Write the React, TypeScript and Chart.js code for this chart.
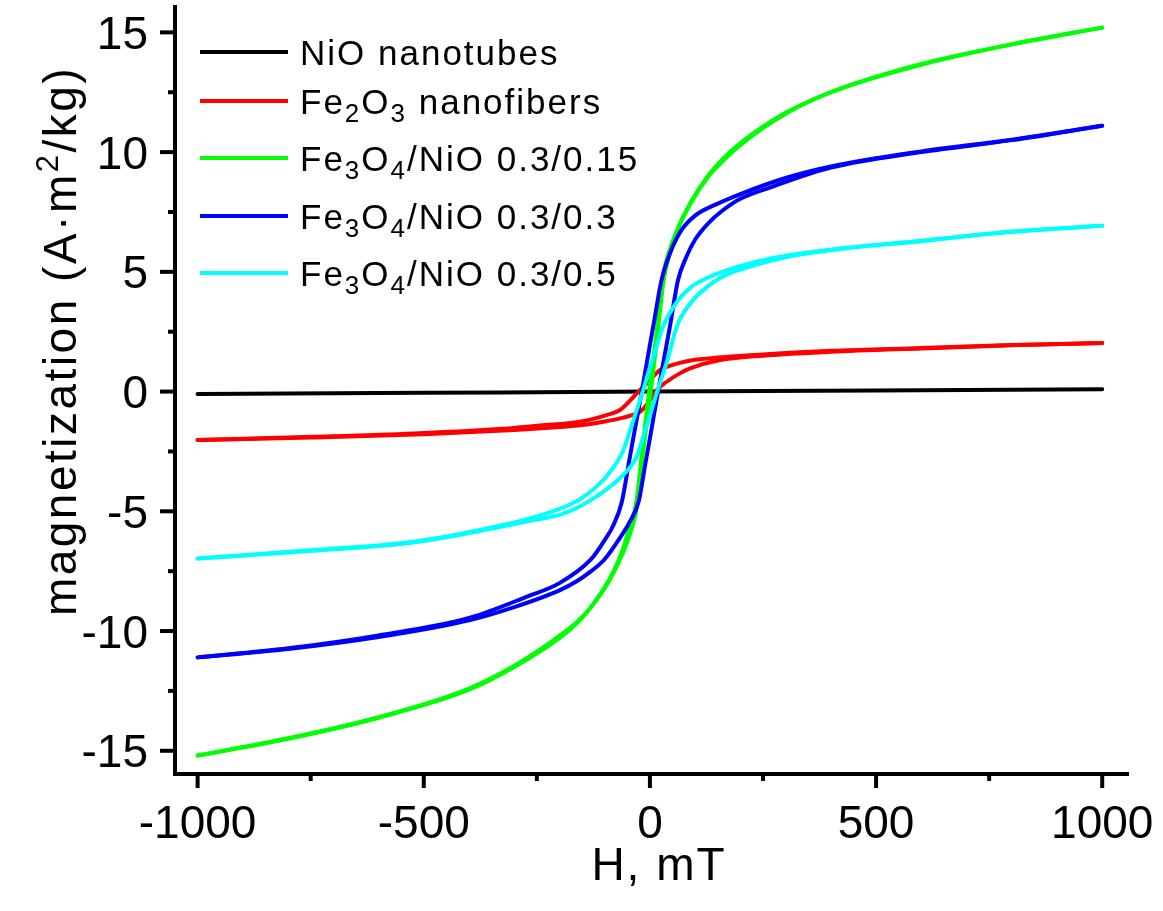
import React, { useEffect, useRef } from 'react';
import { Chart, registerables } from 'chart.js';
Chart.register(...registerables);

// ---- axis ticks ----
const xMajorTicks = [-1000, -500, 0, 500, 1000];
const xMinorTicks = [-750, -250, 250, 750];
const yMajorTicks = [-15, -10, -5, 0, 5, 10, 15];
const yMinorTicks = [-12.5, -7.5, -2.5, 2.5, 7.5, 12.5];

// ---- NiO nanotubes ----
const nioH = [-1000, -500, 0, 500, 1000];
const nioM = [-0.1, -0.05, 0, 0.05, 0.1];

// ---- Fe2O3 nanofibers ----
const redDownH = [1000, 800, 600, 400, 250, 150, 90, 66, 45, 22, 0, -22, -44, -66, -96, -155, -243, -300, -523, -744, -1000];
const redDownM = [2.03, 1.94, 1.82, 1.7, 1.55, 1.42, 1.3, 1.2, 1.08, 0.9, 0.48, 0.06, -0.38, -0.77, -0.98, -1.26, -1.42, -1.52, -1.75, -1.89, -2.02];
const redUpH = [-1000, -750, -500, -300, -200, -150, -100, -66, -40, -20, 0, 15, 37, 66, 90, 150, 250, 400, 600, 800, 1000];
const redUpM = [-2.02, -1.92, -1.78, -1.6, -1.48, -1.4, -1.25, -1.12, -0.98, -0.82, -0.38, 0.06, 0.41, 0.76, 0.98, 1.3, 1.5, 1.66, 1.8, 1.93, 2.03];

// ---- Fe3O4/NiO 0.3/0.15 ----
const greenDownH = [1000, 800, 600, 400, 300, 200, 160, 130, 90, 60, 40, 30, 15, 0, -15, -30, -45, -60, -90, -130, -160, -200, -300, -400, -600, -800, -1000];
const greenDownM = [15.2, 14.5, 13.68, 12.5, 11.64, 10.38, 9.7, 9.05, 7.9, 6.75, 5.7, 4.95, 2.5, 0.3, -2.1, -4.6, -5.65, -6.6, -7.85, -9.0, -9.6, -10.2, -11.45, -12.4, -13.6, -14.48, -15.2];
const greenUpH = [-1000, -800, -600, -400, -300, -200, -160, -130, -90, -60, -40, -30, -15, 0, 15, 30, 45, 60, 90, 130, 160, 200, 300, 400, 600, 800, 1000];
const greenUpM = [-15.2, -14.5, -13.62, -12.45, -11.5, -10.3, -9.65, -9.0, -7.9, -6.75, -5.7, -4.95, -2.5, -0.3, 2.1, 4.6, 5.85, 6.7, 7.85, 9.0, 9.6, 10.3, 11.6, 12.5, 13.65, 14.5, 15.2];

// ---- Fe3O4/NiO 0.3/0.3 ----
const blueDownH = [1000, 800, 600, 400, 300, 200, 150, 100, 70, 45, 25, 10, 0, -18, -30, -45, -62, -80, -100, -130, -200, -270, -400, -600, -800, -1000];
const blueDownM = [11.1, 10.52, 10.03, 9.4, 8.92, 8.25, 7.85, 7.35, 6.75, 5.8, 4.6, 3.0, 1.95, 0, -1.25, -2.8, -4.6, -5.55, -6.2, -7.0, -8.0, -8.55, -9.45, -10.18, -10.72, -11.1];
const blueUpH = [-1000, -800, -600, -400, -300, -200, -160, -130, -100, -66, -45, -25, -10, 0, 18, 30, 45, 62, 80, 100, 130, 160, 200, 270, 400, 600, 800, 1000];
const blueUpM = [-11.1, -10.75, -10.25, -9.55, -9.0, -8.3, -7.9, -7.5, -7.0, -6.1, -5.45, -4.6, -3.0, -1.95, 0, 1.25, 2.8, 4.65, 5.6, 6.35, 7.05, 7.55, 8.05, 8.55, 9.35, 10.0, 10.5, 11.1];

// ---- Fe3O4/NiO 0.3/0.5 ----
const cyanDownH = [1000, 800, 600, 420, 310, 236, 160, 125, 90, 60, 30, 10, 0, -16, -40, -60, -90, -120, -155, -200, -265, -376, -523, -744, -1000];
const cyanDownM = [6.92, 6.67, 6.3, 5.98, 5.7, 5.42, 5.0, 4.73, 4.35, 3.75, 2.75, 1.6, 1.0, 0, -1.4, -2.5, -3.4, -4.0, -4.5, -4.9, -5.3, -5.78, -6.27, -6.62, -6.97];
const cyanUpH = [-1000, -744, -523, -376, -265, -200, -155, -120, -90, -60, -30, -10, 0, 16, 40, 60, 90, 125, 160, 236, 310, 420, 600, 800, 1000];
const cyanUpM = [-6.97, -6.65, -6.3, -5.82, -5.4, -5.15, -4.8, -4.4, -4.0, -3.5, -2.75, -1.6, -1.0, 0, 1.4, 2.75, 3.7, 4.35, 4.8, 5.3, 5.65, 5.95, 6.28, 6.68, 6.92];

// ---- legend (segments: [text, isSubscript]) ----
const legendColors = ['#000000', '#ff0000', '#00ff00', '#0000ff', '#00ffff'];
const legendLabels: [string, boolean][][] = [
  [['NiO nanotubes', false]],
  [['Fe', false], ['2', true], ['O', false], ['3', true], [' nanofibers', false]],
  [['Fe', false], ['3', true], ['O', false], ['4', true], ['/NiO 0.3/0.15', false]],
  [['Fe', false], ['3', true], ['O', false], ['4', true], ['/NiO 0.3/0.3', false]],
  [['Fe', false], ['3', true], ['O', false], ['4', true], ['/NiO 0.3/0.5', false]],
];
const legendRowY = [52, 101, 158, 216, 273];

const FONT = '"Liberation Sans", Arial, sans-serif';

const pts = (hs: number[], ms: number[]) => hs.map((h, i) => ({ x: h, y: ms[i] }));

function ds(data: { x: number; y: number }[], color: string, order: number) {
  return {
    data,
    borderColor: color,
    backgroundColor: color,
    borderWidth: 4,
    pointRadius: 0,
    showLine: true,
    fill: false,
    cubicInterpolationMode: 'monotone' as const,
    borderCapStyle: 'round' as const,
    borderJoinStyle: 'round' as const,
    order,
  };
}

const overlay = {
  id: 'overlay',
  afterDraw(chart: any) {
    const ctx: CanvasRenderingContext2D = chart.ctx;
    const xs = chart.scales.x;
    const ys = chart.scales.y;
    const { left, bottom } = chart.chartArea;
    ctx.save();
    ctx.strokeStyle = '#000';
    ctx.fillStyle = '#000';
    ctx.lineWidth = 4;
    ctx.lineCap = 'butt';
    const seg = (x1: number, y1: number, x2: number, y2: number) => {
      ctx.beginPath();
      ctx.moveTo(x1, y1);
      ctx.lineTo(x2, y2);
      ctx.stroke();
    };
    for (const v of xMajorTicks) { const p = xs.getPixelForValue(v); seg(p, bottom, p, bottom + 14); }
    for (const v of xMinorTicks) { const p = xs.getPixelForValue(v); seg(p, bottom, p, bottom + 7); }
    for (const v of yMajorTicks) { const p = ys.getPixelForValue(v); seg(left, p, left - 15, p); }
    for (const v of yMinorTicks) { const p = ys.getPixelForValue(v); seg(left, p, left - 7, p); }

    // tick labels
    ctx.font = `46px ${FONT}`;
    ctx.textBaseline = 'alphabetic';
    ctx.textAlign = 'center';
    for (const v of xMajorTicks) ctx.fillText(String(v), xs.getPixelForValue(v), 838);
    ctx.textAlign = 'right';
    for (const v of yMajorTicks) ctx.fillText(String(v), 148, ys.getPixelForValue(v) + 16.5);

    // x title
    (ctx as any).letterSpacing = '2px';
    ctx.textAlign = 'center';
    ctx.fillText('H, mT', 659, 880);

    // y title (rotated) with superscript
    ctx.save();
    ctx.translate(76, 341);
    ctx.rotate(-Math.PI / 2);
    ctx.textAlign = 'left';
    (ctx as any).letterSpacing = '2.5px';
    const parts: [string, number, number][] = [['magnetization (A·m', 46, 0], ['2', 31, -18], ['/kg)', 46, 0]];
    let total = 0;
    for (const [t, s] of parts) { ctx.font = `${s}px ${FONT}`; total += ctx.measureText(t).width; }
    let cx = -total / 2;
    for (const [t, s, dy] of parts) {
      ctx.font = `${s}px ${FONT}`;
      ctx.fillText(t, cx, dy);
      cx += ctx.measureText(t).width;
    }
    ctx.restore();

    // legend
    (ctx as any).letterSpacing = '2px';
    ctx.textAlign = 'left';
    legendLabels.forEach((row, i) => {
      const y = legendRowY[i];
      ctx.strokeStyle = legendColors[i];
      ctx.lineWidth = 4;
      seg(200, y, 288, y);
      let x = 300;
      for (const [t, sub] of row) {
        ctx.font = `${sub ? 26 : 35}px ${FONT}`;
        ctx.fillText(t, x, y + 13 + (sub ? 8 : 0));
        x += ctx.measureText(t).width;
      }
    });
    ctx.restore();
  },
};

export default function App() {
  const ref = useRef<HTMLCanvasElement>(null);
  useEffect(() => {
    const chart = new Chart(ref.current!, {
      type: 'scatter',
      data: {
        datasets: [
          ds(pts(nioH, nioM), '#000000', 9),
          ds(pts(redDownH, redDownM), '#ff0000', 8),
          ds(pts(redUpH, redUpM), '#ff0000', 7),
          ds(pts(greenDownH, greenDownM), '#00ff00', 6),
          ds(pts(greenUpH, greenUpM), '#00ff00', 5),
          ds(pts(blueDownH, blueDownM), '#0000ff', 4),
          ds(pts(blueUpH, blueUpM), '#0000ff', 3),
          ds(pts(cyanDownH, cyanDownM), '#00ffff', 2),
          ds(pts(cyanUpH, cyanUpM), '#00ffff', 1),
        ] as any,
      },
      options: {
        responsive: false,
        animation: false,
        devicePixelRatio: 1,
        layout: { padding: { left: 0, top: 7, right: 35, bottom: 0 } },
        plugins: { legend: { display: false }, tooltip: { enabled: false } },
        scales: {
          x: {
            type: 'linear',
            min: -1050,
            max: 1057,
            grid: { display: false },
            border: { display: true, width: 4, color: '#000' },
            ticks: { display: false },
            afterFit: (s: any) => { s.height = 137; },
          },
          y: {
            type: 'linear',
            min: -15.97,
            max: 16.06,
            grid: { display: false },
            border: { display: true, width: 4, color: '#000' },
            ticks: { display: false },
            afterFit: (s: any) => { s.width = 175; },
          },
        },
      } as any,
      plugins: [overlay],
    });
    return () => chart.destroy();
  }, []);
  return (
    <div style={{ position: 'absolute', left: 0, top: 0, width: 1163, height: 911, background: '#fff' }}>
      <canvas ref={ref} width={1163} height={911} style={{ display: 'block', width: 1163, height: 911 }} />
    </div>
  );
}
